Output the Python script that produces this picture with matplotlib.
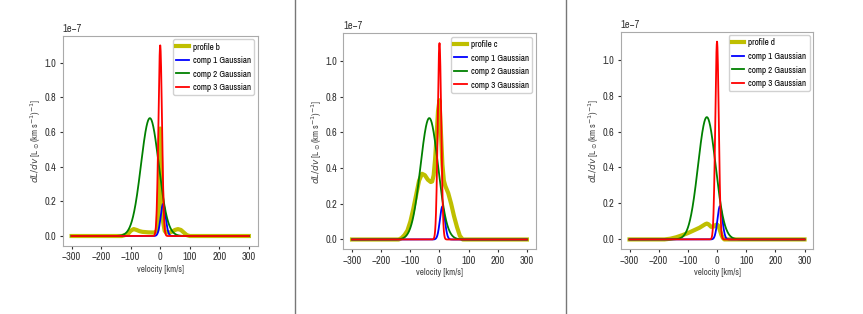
import numpy as np
import matplotlib
matplotlib.use("Agg")
from matplotlib import pyplot as plt
from matplotlib.lines import Line2D

plt.rcParams['font.family'] = ['Archivo Narrow', 'Liberation Sans', 'DejaVu Sans']

# observed profiles (velocity in km/s, dL/dv in units of 1e-7)
vel_b = [-300, -130, -110, -100, -90, -80, -70, -60, -40, -20, -10, -5, 0, 5, 10, 15, 20,
         30, 40, 50, 60, 70, 80, 90, 100, 300]
prof_b = [0, 0, 0.01, 0.03, 0.04, 0.035, 0.028, 0.024, 0.021, 0.02, 0.03, 0.2, 0.62, 0.3,
          0.08, 0.03, 0.02, 0.02, 0.025, 0.035, 0.04, 0.035, 0.02, 0.005, 0, 0]

vel_c = [-300, -140, -130, -120, -110, -100, -90, -80, -70, -60, -50, -40, -30, -25, -20,
         -15, -10, -5, 0, 5, 10, 15, 20, 30, 40, 50, 60, 70, 80, 300]
prof_c = [0, 0, 0.008, 0.025, 0.05, 0.1, 0.17, 0.25, 0.33, 0.368, 0.36, 0.335, 0.322, 0.325,
          0.36, 0.45, 0.58, 0.72, 0.78, 0.6, 0.42, 0.33, 0.3, 0.26, 0.2, 0.13, 0.07, 0.02, 0, 0]

vel_d = [-300, -180, -160, -140, -120, -100, -80, -60, -50, -40, -35, -30, -20, -10, -5, 0,
         5, 10, 15, 20, 25, 300]
prof_d = [0, 0, 0.004, 0.012, 0.023, 0.035, 0.05, 0.065, 0.075, 0.085, 0.088, 0.085, 0.07,
          0.072, 0.08, 0.083, 0.075, 0.05, 0.025, 0.008, 0, 0]

profiles = [("profile b", vel_b, prof_b),
            ("profile c", vel_c, prof_c),
            ("profile d", vel_d, prof_d)]

# gaussian components: amplitude (1e-7), centre (km/s), sigma (km/s)
comp_amp = [0.185, 0.68, 1.1]
comp_mu = [10, -35, 0]
comp_sigma = [8.5, 30, 6]
comp_colors = ['b', 'g', 'r']

scale = 1e-7

fig = plt.figure(figsize=(8.63, 3.14), dpi=100)
boxes = [[0.0727, 0.218, 0.2259, 0.668],
         [0.3978, 0.206, 0.2229, 0.688],
         [0.7193, 0.206, 0.2231, 0.693]]

v = np.linspace(-300, 300, 1201)
for box, (name, vel, prof) in zip(boxes, profiles):
    ax = fig.add_axes(box)
    ax.plot(vel, np.array(prof) * scale, color='y', lw=3, label=name)
    for i in range(3):
        g = comp_amp[i] * np.exp(-0.5 * ((v - comp_mu[i]) / comp_sigma[i]) ** 2)
        ax.plot(v, g * scale, color=comp_colors[i], lw=1.3, label="comp %d Gaussian" % (i + 1))
    ax.set_xlabel("velocity [km/s]", fontsize=6.5, color='#444444', labelpad=2)
    ax.set_ylabel(r"$dL/dv$ [L$_\odot$(km s$^{-1}$)$^{-1}$]", fontsize=6.5, color='#444444',
                  labelpad=1)
    ax.set_xticks([-300, -200, -100, 0, 100, 200, 300])
    ax.tick_params(labelsize=7.5, colors='#333333', length=2.5, pad=2)
    ax.yaxis.get_offset_text().set_fontsize(7.5)
    for s in ax.spines.values():
        s.set_color('#aaaaaa')
    ax.legend(loc='upper right', fontsize=6.5, handlelength=1.4, handletextpad=0.45,
              borderpad=0.35, labelspacing=0.5, borderaxespad=0.4, framealpha=0.9)

# separators between the three panels
for x in [295 / 863, 566 / 863]:
    fig.add_artist(Line2D([x, x], [0, 1], transform=fig.transFigure, color='#777777', lw=1))

fig.savefig("out.png", dpi=100)
